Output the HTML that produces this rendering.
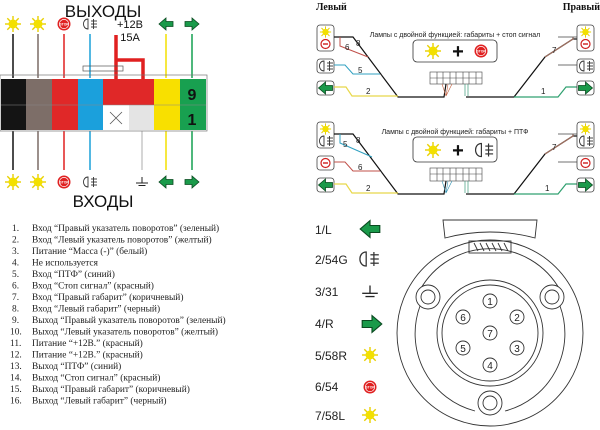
<!DOCTYPE html>
<html><head><meta charset="utf-8"><style>
html,body{margin:0;padding:0;background:#fff;width:600px;height:430px;overflow:hidden}
svg{display:block}
.s{font-family:"Liberation Sans",sans-serif}
.r{font-family:"Liberation Serif",serif}
</style></head><body>
<svg width="600" height="430" viewBox="0 0 600 430" xmlns="http://www.w3.org/2000/svg">
<defs>
<g id="sun"><g stroke="#e8d000" stroke-width="1.4"><line x1="-8" y1="0" x2="8" y2="0"/><line x1="0" y1="-8" x2="0" y2="8"/><line x1="-5.7" y1="-5.7" x2="5.7" y2="5.7"/><line x1="-5.7" y1="5.7" x2="5.7" y2="-5.7"/></g><circle r="4.5" fill="#f3e000"/></g>
<g id="stop"><circle r="6.5" fill="#e02020"/><circle r="5" fill="#fff"/><circle r="4.3" fill="#e02020"/><text x="0" y="1.3" font-size="3.4" fill="#fff" text-anchor="middle" class="s" font-weight="bold">STOP</text></g>
<g id="fog" fill="none" stroke="#333" stroke-width="0.9"><path d="M-2,-5 C-8,-5 -8,5 -2,5 Z"/><line x1="1" y1="-3" x2="7" y2="-3"/><line x1="1" y1="0" x2="7" y2="0"/><line x1="1" y1="3" x2="7" y2="3"/><line x1="3.5" y1="-5" x2="3.5" y2="5"/></g>
<g id="ar"><path d="M-7,-2.5 H0 V-6 L7,0 L0,6 V2.5 H-7 Z" fill="#1a9a4a" stroke="#0a4a20" stroke-width="0.8"/></g>
<g id="al"><path d="M7,-2.5 H0 V-6 L-7,0 L0,6 V2.5 H7 Z" fill="#1a9a4a" stroke="#0a4a20" stroke-width="0.8"/></g>
<g id="gnd" stroke="#222" stroke-width="1"><line x1="0" y1="-5" x2="0" y2="1"/><line x1="-6" y1="1" x2="6" y2="1"/><line x1="-3.5" y1="3.5" x2="3.5" y2="3.5"/></g>
<g id="minus"><circle r="4.5" fill="none" stroke="#d02020" stroke-width="1.2"/><line x1="-2.5" y1="0" x2="2.5" y2="0" stroke="#d02020" stroke-width="1.4"/></g>
</defs>

<!-- Top-left connector -->
<text x="103" y="17" font-size="17" text-anchor="middle" class="s" fill="#111">ВЫХОДЫ</text>
<use href="#sun" x="13" y="24"/><use href="#sun" x="38" y="24"/><use href="#stop" x="64" y="24"/><use href="#fog" x="90" y="24"/>
<text x="130" y="28" font-size="11" text-anchor="middle" class="s" fill="#111">+12B</text>
<text x="130" y="41" font-size="11" text-anchor="middle" class="s" fill="#111">15A</text>
<use href="#al" x="166" y="24"/><use href="#ar" x="192" y="24"/>
<g stroke-width="1.5">
<line x1="13" y1="34" x2="13" y2="78" stroke="#111"/><line x1="38" y1="34" x2="38" y2="78" stroke="#7a6a66"/>
<line x1="64" y1="34" x2="64" y2="78" stroke="#e02020"/><line x1="90" y1="34" x2="90" y2="78" stroke="#1aa0d8"/>
<line x1="166" y1="34" x2="166" y2="78" stroke="#f2e000"/><line x1="192" y1="34" x2="192" y2="78" stroke="#14a050"/>
<line x1="13" y1="131" x2="13" y2="170" stroke="#111"/><line x1="38" y1="131" x2="38" y2="170" stroke="#7a6a66"/>
<line x1="64" y1="131" x2="64" y2="170" stroke="#e02020"/><line x1="90" y1="131" x2="90" y2="170" stroke="#1aa0d8"/>
<line x1="142" y1="131" x2="142" y2="170" stroke="#c8c8c8"/>
<line x1="166" y1="131" x2="166" y2="170" stroke="#f2e000"/><line x1="192" y1="131" x2="192" y2="170" stroke="#14a050"/>
</g>
<path d="M116,35 V79 M116,60 H143 V79" stroke="#e02020" stroke-width="3.5" fill="none"/>
<rect x="83" y="66" width="40" height="5" fill="none" stroke="#555" stroke-width="0.7"/>
<rect x="0" y="75" width="207" height="56" fill="none" stroke="#777" stroke-width="0.7"/>
<rect x="1" y="79" width="25" height="26" fill="#141414"/><rect x="1" y="105" width="25" height="25" fill="#141414"/>
<rect x="26" y="79" width="26" height="26" fill="#7d6e68"/><rect x="26" y="105" width="26" height="25" fill="#7d6e68"/>
<rect x="52" y="79" width="26" height="26" fill="#e02828"/><rect x="52" y="105" width="26" height="25" fill="#e02828"/>
<rect x="78" y="79" width="25" height="26" fill="#1ba0dc"/><rect x="78" y="105" width="25" height="25" fill="#1ba0dc"/>
<rect x="103" y="79" width="26" height="26" fill="#e02828"/><rect x="103" y="105" width="26" height="25" fill="#fff"/>
<path d="M110,112 L122,124 M122,112 L110,124" stroke="#555" stroke-width="0.8"/>
<rect x="129" y="79" width="25" height="26" fill="#e02828"/><rect x="129" y="105" width="25" height="25" fill="#e4e4e4"/>
<rect x="154" y="79" width="26" height="26" fill="#f8e000"/><rect x="154" y="105" width="26" height="25" fill="#f8e000"/>
<rect x="180" y="79" width="26" height="26" fill="#18a050"/><rect x="180" y="105" width="26" height="25" fill="#18a050"/>
<path d="M1,105 H206" stroke="#888" stroke-width="0.6"/>
<text x="192" y="100" font-size="16" font-weight="bold" text-anchor="middle" class="s" fill="#111">9</text>
<text x="192" y="125" font-size="16" font-weight="bold" text-anchor="middle" class="s" fill="#111">1</text>
<use href="#sun" x="13" y="182"/><use href="#sun" x="38" y="182"/><use href="#stop" x="64" y="182"/><use href="#fog" x="90" y="182"/>
<use href="#gnd" x="142" y="182"/><use href="#al" x="166" y="182"/><use href="#ar" x="192" y="182"/>
<text x="103" y="207" font-size="17" text-anchor="middle" class="s" fill="#111">ВХОДЫ</text>

<!-- List -->
<g class="r" font-size="9.4" fill="#222">
<text x="12" y="231">1.</text><text x="32" y="231">Вход “Правый указатель поворотов” (зеленый)</text>
<text x="12" y="242.5">2.</text><text x="32" y="242.5">Вход “Левый указатель поворотов” (желтый)</text>
<text x="12" y="254">3.</text><text x="32" y="254">Питание “Масса (-)” (белый)</text>
<text x="12" y="265.5">4.</text><text x="32" y="265.5">Не используется</text>
<text x="12" y="277">5.</text><text x="32" y="277">Вход “ПТФ” (синий)</text>
<text x="12" y="288.5">6.</text><text x="32" y="288.5">Вход “Стоп сигнал” (красный)</text>
<text x="12" y="300">7.</text><text x="32" y="300">Вход “Правый габарит” (коричневый)</text>
<text x="12" y="311.5">8.</text><text x="32" y="311.5">Вход “Левый габарит” (черный)</text>
<text x="12" y="323">9.</text><text x="32" y="323">Выход “Правый указатель поворотов” (зеленый)</text>
<text x="10" y="334.5">10.</text><text x="32" y="334.5">Выход “Левый указатель поворотов” (желтый)</text>
<text x="10" y="346">11.</text><text x="32" y="346">Питание “+12В.” (красный)</text>
<text x="10" y="357.5">12.</text><text x="32" y="357.5">Питание “+12В.” (красный)</text>
<text x="10" y="369">13.</text><text x="32" y="369">Выход “ПТФ” (синий)</text>
<text x="10" y="380.5">14.</text><text x="32" y="380.5">Выход “Стоп сигнал” (красный)</text>
<text x="10" y="392">15.</text><text x="32" y="392">Выход “Правый габарит” (коричневый)</text>
<text x="10" y="403.5">16.</text><text x="32" y="403.5">Выход “Левый габарит” (черный)</text>
</g>

<!-- Right top diagrams -->
<text x="316" y="10" font-size="10" font-weight="bold" class="r" fill="#111">Левый</text>
<text x="600" y="10" font-size="10" font-weight="bold" class="r" fill="#111" text-anchor="end">Правый</text>

<g>
<text x="455" y="37" font-size="7" text-anchor="middle" class="s" fill="#222">Лампы с двойной функцией: габариты + стоп сигнал</text>
<rect x="413" y="40" width="84" height="22" rx="4" fill="#fff" stroke="#333" stroke-width="0.8"/>
<use href="#sun" x="433" y="51"/><text x="458" y="58" font-size="20" font-weight="bold" text-anchor="middle" class="s" fill="#111">+</text><use href="#stop" x="481" y="51"/>
<g fill="none" stroke="#444" stroke-width="0.6"><rect x="430" y="72" width="52" height="12"/><path d="M430,78 H482 M437,72 V84 M443,72 V84 M450,72 V84 M456,72 V84 M463,72 V84 M469,72 V84 M476,72 V84"/></g>
<rect x="317" y="25" width="17" height="26" rx="3" fill="#fff" stroke="#444" stroke-width="0.8"/>
<g transform="translate(325.5 32) scale(0.7)"><use href="#sun"/></g><use href="#minus" x="325.5" y="44"/>
<rect x="317" y="59" width="17" height="14" rx="3" fill="#fff" stroke="#444" stroke-width="0.8"/><use href="#fog" x="326" y="66"/>
<rect x="317" y="81" width="17" height="14" rx="3" fill="#fff" stroke="#444" stroke-width="0.8"/><use href="#al" x="325.5" y="88"/>
<path d="M334,37 H353 L398,97 H444 L446,84" fill="none" stroke="#111" stroke-width="1.2"/>
<path d="M340,37 V46 L368,57" fill="none" stroke="#c0504a" stroke-width="1"/>
<path d="M334,65 H345 L353,74 H380" fill="none" stroke="#30a0c0" stroke-width="1"/>
<path d="M334,87 H346 L352,96 H398" fill="none" stroke="#e8d84a" stroke-width="1.2"/>
<path d="M442,84 L446,96 M448,84 L446,96 M452,84 L446,96" stroke="#c06040" stroke-width="0.6"/>
<path d="M465,84 V96 M468,84 V96" stroke="#3a9a7a" stroke-width="0.7"/>
<text x="345" y="50" font-size="8" class="s" fill="#222">6</text><text x="356" y="46" font-size="8" class="s" fill="#222">8</text>
<text x="358" y="73" font-size="8" class="s" fill="#222">5</text><text x="366" y="94" font-size="8" class="s" fill="#222">2</text>
<path d="M466,97 H514 L545,57 L573,39 H577" fill="none" stroke="#111" stroke-width="1.2"/>
<path d="M545,57 L573,39 V37" fill="none" stroke="#a07060" stroke-width="1.2"/>
<path d="M558,37 H577 M558,65 H577" stroke="#444" stroke-width="0.7"/>
<path d="M514,97 H558 L566,87 H577" fill="none" stroke="#30a070" stroke-width="1.2"/>
<text x="552" y="53" font-size="8" class="s" fill="#222">7</text><text x="541" y="94" font-size="8" class="s" fill="#222">1</text>
<rect x="577" y="25" width="17" height="26" rx="3" fill="#fff" stroke="#444" stroke-width="0.8"/>
<g transform="translate(585.5 32) scale(0.7)"><use href="#sun"/></g><use href="#minus" x="585.5" y="44"/>
<rect x="577" y="59" width="17" height="14" rx="3" fill="#fff" stroke="#444" stroke-width="0.8"/><use href="#fog" x="586" y="66"/>
<rect x="577" y="81" width="17" height="14" rx="3" fill="#fff" stroke="#444" stroke-width="0.8"/><use href="#ar" x="585.5" y="88"/>
</g>

<g transform="translate(0 97)">
<text x="455" y="37" font-size="7" text-anchor="middle" class="s" fill="#222">Лампы с двойной функцией: габариты + ПТФ</text>
<rect x="413" y="40" width="84" height="25" rx="4" fill="#fff" stroke="#333" stroke-width="0.8"/>
<use href="#sun" x="433" y="53"/><text x="458" y="60" font-size="20" font-weight="bold" text-anchor="middle" class="s" fill="#111">+</text>
<g transform="translate(484 53) scale(1.3)"><use href="#fog"/></g>
<g fill="none" stroke="#444" stroke-width="0.6"><rect x="430" y="71" width="52" height="13"/><path d="M430,77 H482 M437,71 V84 M443,71 V84 M450,71 V84 M456,71 V84 M463,71 V84 M469,71 V84 M476,71 V84"/></g>
<rect x="317" y="25" width="17" height="26" rx="3" fill="#fff" stroke="#444" stroke-width="0.8"/>
<g transform="translate(325.5 32) scale(0.7)"><use href="#sun"/></g><use href="#fog" x="326" y="44"/>
<rect x="317" y="59" width="17" height="14" rx="3" fill="#fff" stroke="#444" stroke-width="0.8"/><use href="#minus" x="325.5" y="66"/>
<rect x="317" y="81" width="17" height="14" rx="3" fill="#fff" stroke="#444" stroke-width="0.8"/><use href="#al" x="325.5" y="88"/>
<path d="M334,37 H353 L398,97 H444 L446,84" fill="none" stroke="#111" stroke-width="1.2"/>
<path d="M340,37 V46 L372,60" fill="none" stroke="#30a0c0" stroke-width="1"/>
<path d="M334,65 H345 L353,74 H380" fill="none" stroke="#c0504a" stroke-width="1"/>
<path d="M334,87 H346 L352,96 H398" fill="none" stroke="#e8d84a" stroke-width="1.2"/>
<path d="M442,84 L446,96 M448,84 L446,96 M452,84 L446,96" stroke="#3090b0" stroke-width="0.6"/>
<path d="M465,84 V96 M468,84 V96" stroke="#3a9a7a" stroke-width="0.7"/>
<text x="343" y="50" font-size="8" class="s" fill="#222">5</text><text x="356" y="46" font-size="8" class="s" fill="#222">8</text>
<text x="358" y="73" font-size="8" class="s" fill="#222">6</text><text x="366" y="94" font-size="8" class="s" fill="#222">2</text>
<path d="M466,97 H514 L545,57 L573,39 H577" fill="none" stroke="#111" stroke-width="1.2"/>
<path d="M545,57 L573,39 V37" fill="none" stroke="#a07060" stroke-width="1.2"/>
<path d="M558,37 H577 M558,65 H577" stroke="#444" stroke-width="0.7"/>
<path d="M514,97 H558 L566,87 H577" fill="none" stroke="#30a070" stroke-width="1.2"/>
<text x="552" y="53" font-size="8" class="s" fill="#222">7</text><text x="545" y="94" font-size="8" class="s" fill="#222">1</text>
<rect x="577" y="25" width="17" height="26" rx="3" fill="#fff" stroke="#444" stroke-width="0.8"/>
<g transform="translate(585.5 32) scale(0.7)"><use href="#sun"/></g><use href="#fog" x="586" y="44"/>
<rect x="577" y="59" width="17" height="14" rx="3" fill="#fff" stroke="#444" stroke-width="0.8"/><use href="#minus" x="585.5" y="66"/>
<rect x="577" y="81" width="17" height="14" rx="3" fill="#fff" stroke="#444" stroke-width="0.8"/><use href="#ar" x="585.5" y="88"/>
</g>

<!-- Bottom right socket -->
<g class="s" font-size="12" fill="#222">
<text x="315" y="234">1/L</text><text x="315" y="264">2/54G</text><text x="315" y="296">3/31</text>
<text x="315" y="328">4/R</text><text x="315" y="360">5/58R</text><text x="315" y="391">6/54</text><text x="315" y="420">7/58L</text>
</g>
<g transform="translate(370 229) scale(1.4)"><use href="#al"/></g>
<g transform="translate(369 259) scale(1.4)"><use href="#fog"/></g>
<g transform="translate(370 292) scale(1.3)"><use href="#gnd"/></g>
<g transform="translate(372 324) scale(1.4)"><use href="#ar"/></g>
<use href="#sun" x="370" y="355"/><use href="#stop" x="370" y="387"/><use href="#sun" x="370" y="415"/>

<g fill="none" stroke="#333" stroke-width="0.9">
<path d="M443,220 H537 L535,238 Q490,226 445,238 Z" fill="#fff"/>
<rect x="469" y="241" width="42" height="12"/>
<path d="M474,243 L478,251 M480,243 L484,251 M486,243 L490,251 M492,243 L496,251 M498,243 L502,251 M504,243 L508,251"/>
<circle cx="490" cy="333" r="93"/>
<path d="M420,290 A80,80 0 0 1 560,290 M560,306 A80,80 0 0 1 505,411 M475,411 A80,80 0 0 1 420,306" />
<circle cx="490" cy="333" r="53"/><circle cx="490" cy="333" r="48"/>
<circle cx="428" cy="297" r="12" fill="#fff"/><circle cx="428" cy="297" r="7"/>
<circle cx="552" cy="297" r="12" fill="#fff"/><circle cx="552" cy="297" r="7"/>
<circle cx="490" cy="403" r="12" fill="#fff"/><circle cx="490" cy="403" r="7"/>
<circle cx="490" cy="301" r="7"/><circle cx="517" cy="317" r="7"/><circle cx="517" cy="348" r="7"/>
<circle cx="490" cy="365" r="7"/><circle cx="463" cy="348" r="7"/><circle cx="463" cy="317" r="7"/><circle cx="490" cy="333" r="7"/>
</g>
<g class="s" font-size="10" fill="#222" text-anchor="middle">
<text x="490" y="305">1</text><text x="517" y="321">2</text><text x="517" y="352">3</text><text x="490" y="369">4</text>
<text x="463" y="352">5</text><text x="463" y="321">6</text><text x="490" y="337">7</text>
</g>
</svg>
</body></html>
